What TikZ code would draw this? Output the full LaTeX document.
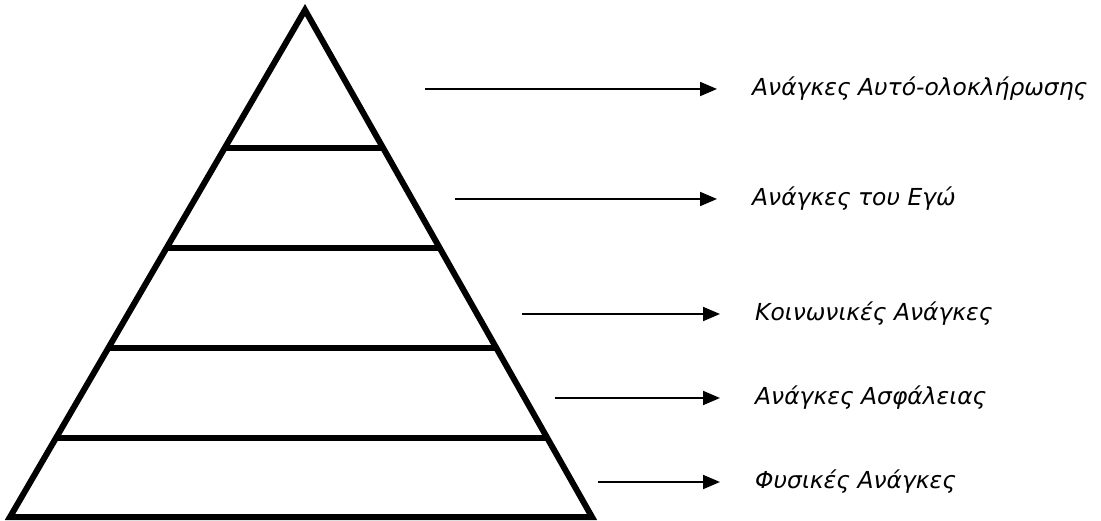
\documentclass[tikz,border=0pt]{standalone}
\usepackage{fontspec}
\newfontfamily\lblfont{DejaVu Sans}
\usetikzlibrary{arrows.meta}
\begin{document}
\begin{tikzpicture}[x=1pt,y=-1pt,
  edge/.style={line width=6pt,line join=miter},
  tier/.style={line width=6pt},
  pointer/.style={line width=2pt,-{Triangle[length=17pt,width=14pt]}},
  lbl/.style={anchor=west,inner sep=0pt,font=\lblfont\itshape\fontsize{23.4}{27}\selectfont}]
\useasboundingbox (0,0) rectangle (1101,521);
\coordinate (apex) at (305,10);
\coordinate (bl) at (10,517);
\coordinate (br) at (592,517);
\draw[edge] (apex) -- (bl) -- (br) -- cycle;
\foreach \yy/\nm in {148/h1,248/h2,348/h3,438/h4}{
  \pgfmathsetmacro{\xl}{305-(\yy-10)/507*295}
  \pgfmathsetmacro{\xr}{305+(\yy-10)/507*287}
  \coordinate (\nm l) at (\xl,\yy);
  \coordinate (\nm r) at (\xr,\yy);
  \draw[tier] (\nm l) -- (\nm r);
}
\node[lbl] (t1) at (752,89) {Ανάγκες Αυτό-ολοκλήρωσης};
\node[lbl] (t2) at (752,199) {Ανάγκες του Εγώ};
\node[lbl] (t3) at (755,314) {Κοινωνικές Ανάγκες};
\node[lbl] (t4) at (755,398) {Ανάγκες Ασφάλειας};
\node[lbl] (t5) at (755,482) {Φυσικές Ανάγκες};
\coordinate (s1) at (425,89);
\coordinate (s2) at (455,199);
\coordinate (s3) at (522,314);
\coordinate (s4) at (555,398);
\coordinate (s5) at (598,482);
\draw[pointer] (s1) -- ([xshift=-35pt]t1.west);
\draw[pointer] (s2) -- ([xshift=-35pt]t2.west);
\draw[pointer] (s3) -- ([xshift=-35pt]t3.west);
\draw[pointer] (s4) -- ([xshift=-35pt]t4.west);
\draw[pointer] (s5) -- ([xshift=-35pt]t5.west);
\end{tikzpicture}
\end{document}
